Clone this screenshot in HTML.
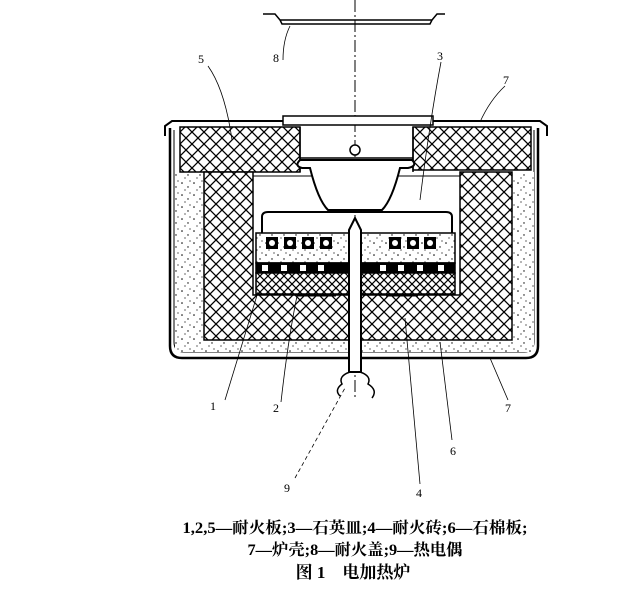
<!DOCTYPE html>
<html><head><meta charset="utf-8"><style>
html,body{margin:0;padding:0;background:#fff;}
svg{display:block}
</style></head><body>
<svg width="636" height="594" viewBox="0 0 636 594" xmlns="http://www.w3.org/2000/svg" font-family="Liberation Serif, Noto Serif CJK SC, serif">
<defs>
<pattern id="hx" width="12" height="12" patternUnits="userSpaceOnUse">
<rect width="12" height="12" fill="#fff"/>
<path d="M0 0L12 12M12 0L0 12" stroke="#000" stroke-width="1.3"/>
</pattern>
<pattern id="hx2" width="8" height="8" patternUnits="userSpaceOnUse">
<rect width="8" height="8" fill="#fff"/>
<path d="M0 0L8 8M8 0L0 8" stroke="#000" stroke-width="1.2"/>
</pattern>
<pattern id="dt" width="12" height="12" patternUnits="userSpaceOnUse">
<rect width="12" height="12" fill="#fff"/>
<circle cx="2" cy="3" r="0.8" fill="#000"/><circle cx="8" cy="7" r="0.7" fill="#000"/><circle cx="5" cy="10" r="0.6" fill="#000"/><circle cx="10" cy="1" r="0.6" fill="#000"/>
</pattern>
</defs>
<g stroke="#000" stroke-width="1.5" fill="none">
<line x1="355" y1="0" x2="355" y2="400" stroke-width="1" stroke-dasharray="12,3,2,3"/>
<path d="M263 14 L275 14 L280 20 L432 20 L437 14 L445 14 M280 20 L282 24 L430 24 L432 20"/>
<path d="M165 136 L165 126 L172 121 L540 121 L547 126 L547 136" stroke-width="2"/>
<path d="M170 128 L170 346 Q170 358 182 358 L526 358 Q538 358 538 346 L538 128" stroke-width="2.5"/>
<path d="M174 130 L174 342 Q174 352 184 352 L524 352 Q534 352 534 342 L534 130" stroke-width="1"/>
<rect x="175" y="172" width="29" height="170" fill="url(#dt)" stroke="none"/>
<rect x="510" y="172" width="24" height="170" fill="url(#dt)" stroke="none"/>
<rect x="175" y="340" width="359" height="12" fill="url(#dt)" stroke="none"/>
<rect x="180" y="127" width="120" height="45" fill="url(#hx)"/>
<rect x="413" y="127" width="118" height="43" fill="url(#hx)"/>
<rect x="283" y="116" width="150" height="9" fill="#fff"/>
<path d="M300 127 L300 172 M413 127 L413 172 M300 158 L413 158"/>
<path d="M204 172 L253 172 L253 295 L460 295 L460 172 L512 172 L512 340 L204 340 Z" fill="url(#hx)"/>
<path d="M253 176 L460 176" stroke-width="1"/>
<rect x="256" y="233" width="199" height="30" fill="url(#dt)"/>
<rect x="256" y="263" width="199" height="10" fill="#000"/>
<g fill="#fff" stroke="none">
<rect x="262" y="265" width="6" height="6"/><rect x="281" y="265" width="6" height="6"/><rect x="300" y="265" width="6" height="6"/><rect x="318" y="265" width="6" height="6"/>
<rect x="380" y="265" width="6" height="6"/><rect x="398" y="265" width="6" height="6"/><rect x="417" y="265" width="6" height="6"/><rect x="438" y="265" width="6" height="6"/>
</g>
<rect x="256" y="273" width="199" height="21" fill="url(#hx2)"/>
<path d="M297 295 L336 295 M386 295 L418 295" stroke-width="3"/>
<g fill="#000" stroke="none">
<rect x="266" y="237" width="12" height="12"/><rect x="284" y="237" width="12" height="12"/><rect x="302" y="237" width="12" height="12"/><rect x="320" y="237" width="12" height="12"/>
<rect x="389" y="237" width="12" height="12"/><rect x="407" y="237" width="12" height="12"/><rect x="424" y="237" width="12" height="12"/>
</g>
<g fill="#fff" stroke="none">
<circle cx="272" cy="243" r="3"/><circle cx="290" cy="243" r="3"/><circle cx="308" cy="243" r="3"/><circle cx="326" cy="243" r="3"/>
<circle cx="395" cy="243" r="3"/><circle cx="413" cy="243" r="3"/><circle cx="430" cy="243" r="3"/>
</g>
<path d="M262 233 L262 217 Q262 212 268 212 L446 212 Q452 212 452 217 L452 233" stroke-width="2"/>
<path d="M300 160 L412 160 Q418 166 408 168 L400 168 Q392 200 382 210 L328 210 Q318 200 310 168 L302 168 Q294 166 300 160 Z" fill="#fff" stroke-width="2"/>
<circle cx="355" cy="150" r="5" fill="#fff"/>
<path d="M349 230 L355 218 L361 230 L361 372 L349 372 Z" fill="#fff" stroke-width="2"/>
<path d="M350 372 Q338 376 342 384 Q334 390 340 396 M360 372 Q372 376 368 384 Q378 390 372 398" stroke-width="1.5"/>
<g stroke-width="0.8">
<path d="M208 66 Q225 90 232 140"/>
<path d="M441 62 Q430 120 420 200"/>
<path d="M505 86 Q490 100 480 122"/>
<path d="M283 60 Q283 40 290 26"/>
<path d="M225 400 L258 292"/>
<path d="M281 402 Q288 340 297 296"/>
<path d="M295 478 L345 388" stroke-dasharray="4,3"/>
<path d="M420 484 L405 318"/>
<path d="M452 440 L440 342"/>
<path d="M508 400 L490 358"/>
</g>
</g>
<g font-size="12" fill="#000">
<text x="198" y="63">5</text><text x="437" y="60">3</text><text x="503" y="84">7</text><text x="273" y="62">8</text>
<text x="210" y="410">1</text><text x="273" y="412">2</text><text x="284" y="492">9</text><text x="416" y="497">4</text><text x="450" y="455">6</text><text x="505" y="412">7</text>
</g>
<g font-family="Liberation Serif, Noto Serif CJK SC, serif" fill="#000" font-weight="bold">
<text x="355" y="533" font-size="16" text-anchor="middle" textLength="345" lengthAdjust="spacingAndGlyphs">1,2,5—耐火板;3—石英皿;4—耐火砖;6—石棉板;</text>
<text x="355" y="555" font-size="16" text-anchor="middle" textLength="215" lengthAdjust="spacingAndGlyphs">7—炉壳;8—耐火盖;9—热电偶</text>
<text x="353" y="578" font-size="17" text-anchor="middle">图 1　电加热炉</text>
</g>
</svg>
</body></html>
